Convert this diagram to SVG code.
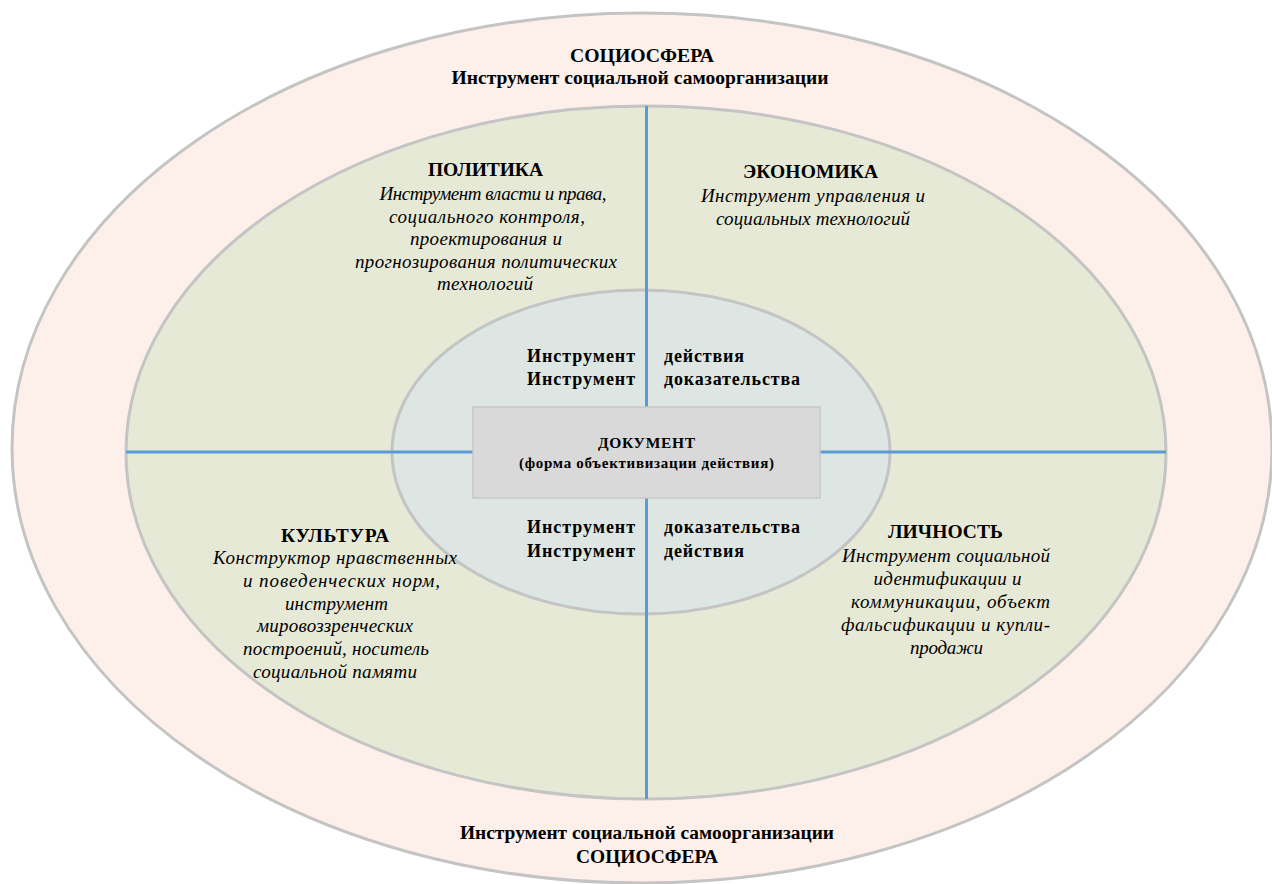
<svg xmlns="http://www.w3.org/2000/svg" width="1272" height="884" viewBox="0 0 1272 884">
<style>
.t{font-family:"Liberation Serif","Times New Roman",serif;fill:#000;text-anchor:middle}
.b{font-weight:bold}
.i{font-style:italic;font-size:19px}
.h{font-weight:bold;font-size:19.5px}
.s{text-anchor:start}
.e{text-anchor:end}
.n{font-weight:bold;font-size:18px}
.ln{stroke:#5b9bd5;stroke-width:3;fill:none}
</style>
<rect width="1272" height="884" fill="#ffffff"/>
<g id="sociosphere">
<ellipse cx="642" cy="448" rx="630" ry="435" fill="#fdf0ea" stroke="#c4c4c4" stroke-width="3"/>
<text class="t b" x="642" y="62" font-size="19" textLength="144" lengthAdjust="spacingAndGlyphs">СОЦИОСФЕРА</text>
<text class="t b" x="640" y="84" font-size="18" textLength="377" lengthAdjust="spacingAndGlyphs">Инструмент социальной самоорганизации</text>
<text class="t b" x="647" y="839" font-size="18" textLength="374" lengthAdjust="spacingAndGlyphs">Инструмент социальной самоорганизации</text>
<text class="t b" x="647" y="863" font-size="19" textLength="142" lengthAdjust="spacingAndGlyphs">СОЦИОСФЕРА</text>
</g>
<g id="middle">
<ellipse cx="646" cy="452.5" rx="520" ry="346.5" fill="#e7e9d7" stroke="#c4c4c4" stroke-width="3"/>
</g>
<g id="inner">
<ellipse cx="641" cy="452" rx="249" ry="162" fill="#dde6e2" stroke="#c4c4c4" stroke-width="3"/>
</g>
<g id="connectors">
<line class="ln" x1="646.5" y1="106" x2="646.5" y2="407"/>
<line class="ln" x1="646.5" y1="498" x2="646.5" y2="799"/>
<line class="ln" x1="126" y1="452" x2="473" y2="452"/>
<line class="ln" x1="820" y1="452" x2="1166" y2="452"/>
</g>
<g id="politika">
<text class="t h" x="485.5" y="176" textLength="115">ПОЛИТИКА</text>
<text class="t i" x="493" y="200" textLength="227">Инструмент власти и права,</text>
<text class="t i" x="487" y="222.5" textLength="196">социального контроля,</text>
<text class="t i" x="486" y="245" textLength="152">проектирования и</text>
<text class="t i" x="486" y="267.5" textLength="262">прогнозирования политических</text>
<text class="t i" x="485" y="290" textLength="96">технологий</text>
</g>
<g id="ekonomika">
<text class="t h" x="810.5" y="178" textLength="135">ЭКОНОМИКА</text>
<text class="t i" x="813" y="202" textLength="224">Инструмент управления и</text>
<text class="t i" x="813" y="225" textLength="194">социальных технологий</text>
</g>
<g id="kultura">
<text class="t h" x="335" y="542" textLength="108">КУЛЬТУРА</text>
<text class="t i" x="335" y="564" textLength="244">Конструктор нравственных</text>
<text class="t i" x="341.5" y="587" textLength="197">и поведенческих норм,</text>
<text class="t i" x="336.5" y="609.5" textLength="103">инструмент</text>
<text class="t i" x="335" y="632" textLength="156">мировоззренческих</text>
<text class="t i" x="336" y="655" textLength="186">построений, носитель</text>
<text class="t i" x="335" y="678" textLength="164">социальной памяти</text>
</g>
<g id="lichnost">
<text class="t h" x="945.5" y="538" textLength="115">ЛИЧНОСТЬ</text>
<text class="t i" x="946" y="562" textLength="208">Инструмент социальной</text>
<text class="t i" x="947.5" y="585" textLength="148">идентификации и</text>
<text class="t i" x="950.5" y="608" textLength="199">коммуникации, объект</text>
<text class="t i" x="945.5" y="631" textLength="209">фальсификации и купли-</text>
<text class="t i" x="946.5" y="654" textLength="73">продажи</text>
</g>
<g id="instruments">
<text class="t n e" x="635" y="362" textLength="108">Инструмент</text>
<text class="t n e" x="635" y="385" textLength="108">Инструмент</text>
<text class="t n s" x="664" y="362" textLength="80">действия</text>
<text class="t n s" x="664" y="385" textLength="136">доказательства</text>
<text class="t n e" x="635" y="533" textLength="108">Инструмент</text>
<text class="t n e" x="635" y="557" textLength="108">Инструмент</text>
<text class="t n s" x="664" y="533" textLength="136">доказательства</text>
<text class="t n s" x="664" y="557" textLength="80">действия</text>
</g>
<g id="document">
<rect x="473" y="407" width="347" height="91" fill="#d9d9d9" stroke="#c8c8c8" stroke-width="1.5"/>
<text class="t b" x="646.5" y="448" font-size="15.5" textLength="97">ДОКУМЕНТ</text>
<text class="t b" x="646.5" y="468" font-size="15" textLength="255">(форма объективизации действия)</text>
</g>
</svg>
